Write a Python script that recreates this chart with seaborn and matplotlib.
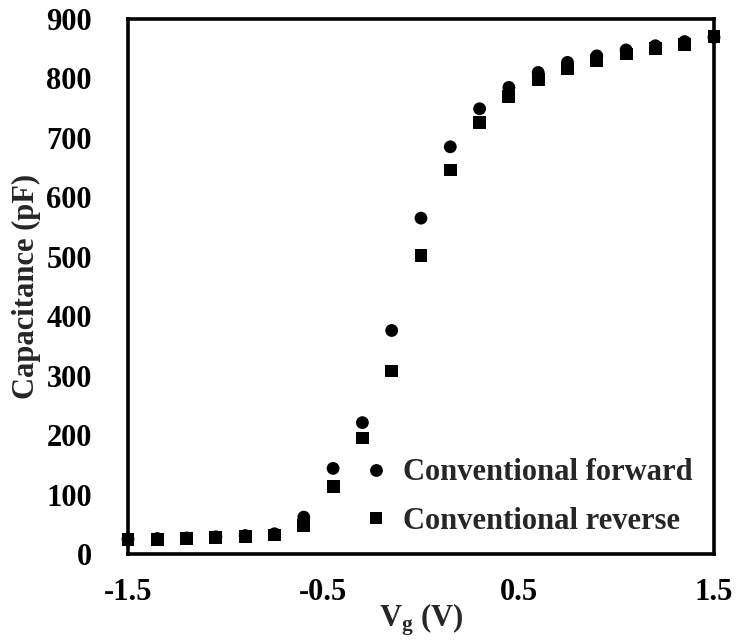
import matplotlib
matplotlib.use("Agg")
import matplotlib.pyplot as plt
import seaborn as sns
import pandas as pd

vg = [-1.5, -1.35, -1.2, -1.05, -0.9, -0.75, -0.6, -0.45, -0.3, -0.15, 0.0,
      0.15, 0.3, 0.45, 0.6, 0.75, 0.9, 1.05, 1.2, 1.35, 1.5]
forward = [25, 26, 27, 29, 31, 34, 62, 144, 221, 376, 565,
           685, 749, 785, 810, 827, 838, 848, 855, 862, 869]
reverse = [24, 25, 26, 28, 30, 32, 48, 114, 195, 308, 502,
           646, 726, 770, 798, 816, 830, 841, 850, 857, 870]
series_names = ["Conventional forward", "Conventional reverse"]
x_ticks = [-1.5, -0.5, 0.5, 1.5]
y_ticks = [0, 100, 200, 300, 400, 500, 600, 700, 800, 900]

df = pd.DataFrame({
    "Vg": vg + vg,
    "C": forward + reverse,
    "series": [series_names[0]] * len(vg) + [series_names[1]] * len(vg),
})

sns.set_style("white")
plt.rcParams["font.family"] = ["Liberation Serif", "DejaVu Serif"]
plt.rcParams["font.weight"] = "bold"
plt.rcParams["mathtext.fontset"] = "custom"
plt.rcParams["mathtext.rm"] = "Liberation Serif:bold"
plt.rcParams["mathtext.bf"] = "Liberation Serif:bold"
plt.rcParams["mathtext.it"] = "Liberation Serif:bold"

FS = 22

fig = plt.figure(figsize=(7.37, 6.4), dpi=100)
ax = fig.add_axes([128 / 737, 1 - 554 / 640, (714 - 128) / 737, (554 - 19) / 640])

sns.scatterplot(data=df, x="Vg", y="C", hue="series", style="series",
                palette={series_names[0]: "black", series_names[1]: "black"},
                markers={series_names[0]: "o", series_names[1]: "s"},
                s=85, linewidth=0, ax=ax, clip_on=False, zorder=3)

ax.set_xlim(-1.5, 1.5)
ax.set_ylim(0, 900)
ax.set_xticks(x_ticks)
ax.set_xticklabels([str(t) for t in x_ticks])
ax.set_yticks(y_ticks)
ax.set_yticklabels([str(t) for t in y_ticks])
ax.tick_params(axis="both", direction="inout", length=8, width=2.2,
               labelsize=FS, color="black", labelcolor="black")
ax.tick_params(axis="x", pad=13)
ax.tick_params(axis="y", pad=22)
for sp in ax.spines.values():
    sp.set_linewidth(2.6)
    sp.set_color("black")
    sp.set_visible(True)

for lab in ax.get_xticklabels() + ax.get_yticklabels():
    lab.set_fontweight("bold")

ax.set_xlabel(r"$\mathbf{V_g}$ (V)", fontsize=FS, fontweight="bold", labelpad=-4)
ax.set_ylabel("Capacitance (pF)", fontsize=FS, fontweight="bold", labelpad=4)

leg = ax.legend(loc="lower right", bbox_to_anchor=(0.995, 0.0), frameon=False,
                prop={"family": "Liberation Serif", "weight": "bold", "size": FS},
                handletextpad=0.3, labelspacing=0.63, markerscale=1.0,
                handlelength=1.2, borderaxespad=0.2)

fig.savefig("out.png", dpi=100)
